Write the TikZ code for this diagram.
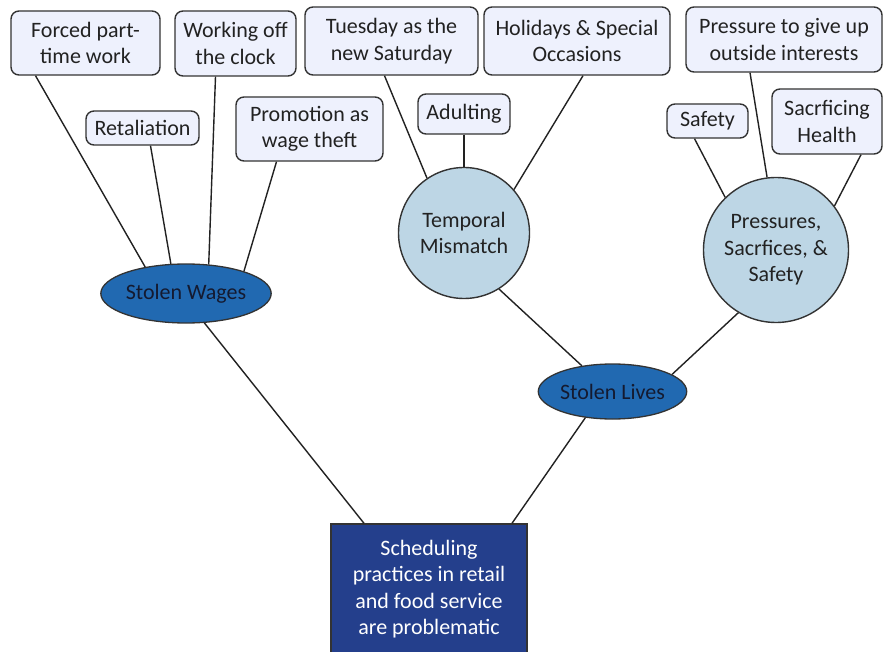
\documentclass[tikz,border=0pt]{standalone}
\usepackage{fontspec}
\setmainfont{Carlito}
\usetikzlibrary{shapes.geometric}
\definecolor{boxfill}{HTML}{EEF1FD}
\definecolor{edgecol}{HTML}{333333}
\definecolor{linecol}{HTML}{222222}
\definecolor{circfill}{HTML}{BDD6E5}
\definecolor{ovalfill}{HTML}{2169B1}
\definecolor{rootfill}{HTML}{243F8C}
\definecolor{textcol}{HTML}{222222}
\definecolor{darktext}{HTML}{141A30}
\begin{document}
\begin{tikzpicture}[x=1pt,y=-1pt,
  every node/.style={font=\fontsize{22}{26.5}\selectfont, align=center, inner sep=0pt},
  leaf/.style={rectangle, draw=edgecol, line width=1.4pt, fill=boxfill, rounded corners=8pt, text=textcol},
  mid/.style={circle, draw=edgecol, line width=1.4pt, fill=circfill, text=textcol},
  oval/.style={ellipse, draw=edgecol, line width=1.3pt, fill=ovalfill, text=darktext, minimum width=146pt},
  rootbox/.style={rectangle, draw=edgecol, line width=1.4pt, fill=rootfill, text=white},
  link/.style={draw=linecol, line width=1.4pt}]
\clip (0,0) rectangle (883,652);
\fill[white] (0,0) rectangle (883,652);

% leaf boxes
\node[leaf, minimum width=149pt, minimum height=64pt] (forced) at (85.5,43) {Forced part-\\time work};
\node[leaf, minimum width=121pt, minimum height=65pt] (working) at (235.5,43.5) {Working off\\the clock};
\node[leaf, minimum width=113pt, minimum height=34pt] (retal) at (142.5,128) {Retaliation};
\node[leaf, minimum width=147pt, minimum height=64pt] (promo) at (309.5,129) {Promotion as\\wage theft};
\node[leaf, minimum width=173pt, minimum height=68pt] (tuesday) at (391.5,41) {Tuesday as the\\new Saturday};
\node[leaf, minimum width=186pt, minimum height=68pt] (holidays) at (577,41) {Holidays \& Special\\Occasions};
\node[leaf, minimum width=92pt, minimum height=40pt] (adult) at (464,114) {Adulting};
\node[leaf, minimum width=196pt, minimum height=65pt] (giveup) at (784,39.5) {Pressure to give up\\outside interests};
\node[leaf, minimum width=81pt, minimum height=34pt] (safety) at (707.5,121) {Safety};
\node[leaf, minimum width=110pt, minimum height=65pt] (health) at (827,121.5) {Sacrficing\\Health};

% circles
\node[mid, minimum size=131pt] (temporal) at (464,233) {Temporal\\Mismatch};
\node[mid, minimum size=145pt] (press) at (776,250) {Pressures,\\Sacrfices, \&\\Safety};

% ellipses
\node[oval, minimum height=59pt] (wages) at (186,293.5) {Stolen Wages};
\node[oval, minimum height=55pt] (lives) at (612.5,391.5) {Stolen Lives};

% root
\node[rootbox, minimum width=196pt, minimum height=130pt] (root) at (429,589) {Scheduling\\practices in retail\\and food service\\are problematic};

% connectors
\draw[link] ([xshift=-50pt]forced.south) -- (wages.147);
\draw[link] ([xshift=8pt]retal.south) -- (wages.117);
\draw[link] ([xshift=-20pt]working.south) -- (wages.52);
\draw[link] ([xshift=-33pt]promo.south) -- (wages.21);
\draw[link] (wages.-58) -- ([xshift=-65pt]root.north);

\draw[link] ([xshift=-7pt]tuesday.south) -- (temporal.124);
\draw[link] (adult.south) -- (temporal.90);
\draw[link] ([xshift=6pt]holidays.south) -- (temporal.41);
\draw[link] (temporal.-58) -- (lives.140);

\draw[link] ([xshift=-13pt]safety.south) -- (press.134);
\draw[link] ([xshift=-34pt]giveup.south) -- (press.97);
\draw[link] ([xshift=34pt]health.south) -- (press.37);
\draw[link] (press.239) -- (lives.16);

\draw[link] (lives.224) -- ([xshift=83pt]root.north);
\end{tikzpicture}
\end{document}
